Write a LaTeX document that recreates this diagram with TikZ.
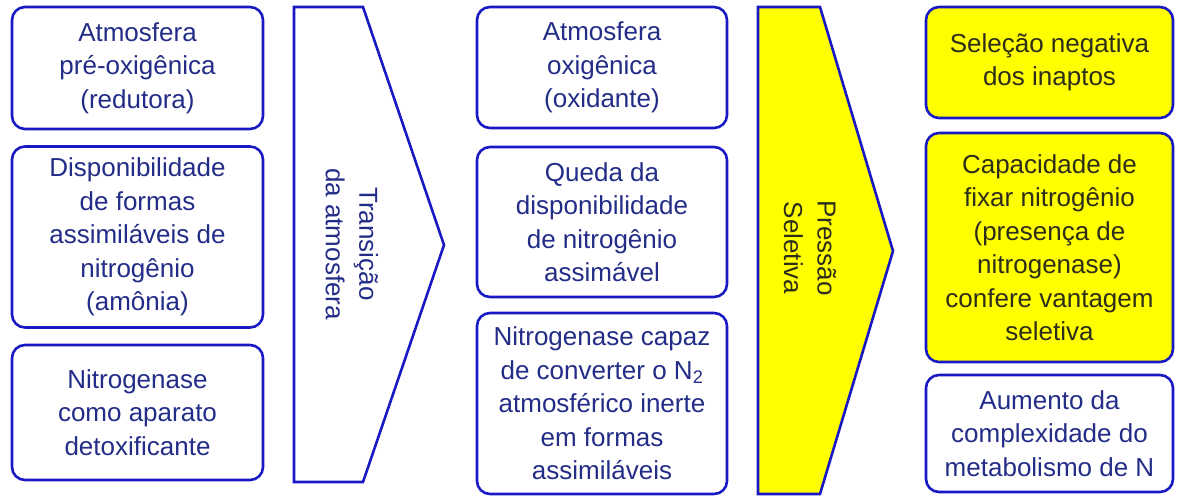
\documentclass[tikz,border=0pt]{standalone}
\usepackage{fontspec}
\setmainfont{Liberation Sans}
\definecolor{bordblue}{RGB}{25,25,195}
\definecolor{txtblue}{RGB}{35,45,135}
\definecolor{txtdark}{RGB}{45,45,25}
\definecolor{yel}{RGB}{255,255,0}
\tikzset{
  box/.style={draw=bordblue, line width=2.6pt, rounded corners=13pt, fill=white,
    align=center, text=txtblue, inner sep=0pt,
    font=\fontsize{26}{33.5}\selectfont},
  ybox/.style={box, fill=yel, text=txtdark},
  arrowshape/.style={draw=bordblue, line width=2.6pt, line join=miter},
  arrowtext/.style={align=center, rotate=-90, inner sep=0pt,
    font=\fontsize{26}{33.5}\selectfont}
}
\begin{document}
\begin{tikzpicture}[x=1pt,y=-1pt]
\useasboundingbox[fill=white] (0,0) rectangle (1177,497);
% column 1
\node[box, minimum width=251pt, minimum height=122pt] (a1) at (137.5,68) {Atmosfera\\pré-oxigênica\\(redutora)};
\node[box, minimum width=251pt, minimum height=181pt] (a2) at (137.5,237) {Disponibilidade\\de formas\\assimiláveis de\\nitrogênio\\(amônia)};
\node[box, minimum width=251pt, minimum height=135pt] (a3) at (137.5,412.5) {Nitrogenase\\como aparato\\detoxificante};
% arrow 1
\draw[arrowshape, fill=white] (294,7) -- (363,7) -- (444,245) -- (363,482) -- (294,482) -- cycle;
\node[arrowtext, text=txtblue] (t1) at (352,244) {Transição\\da atmosfera};
% column 3
\node[box, minimum width=250pt, minimum height=121pt] (b1) at (602,67.5) {Atmosfera\\oxigênica\\(oxidante)};
\node[box, minimum width=250pt, minimum height=150pt] (b2) at (602,222) {Queda da\\disponibilidade\\de nitrogênio\\assimável};
\node[box, minimum width=250pt, minimum height=181pt] (b3) at (602,403.5) {Nitrogenase capaz\\de converter o N\textsubscript{2}\\atmosférico inerte\\em formas\\assimiláveis};
% arrow 2
\draw[arrowshape, fill=yel] (758,7) -- (820,7) -- (893,251) -- (820,494) -- (758,494) -- cycle;
\node[arrowtext, text=txtdark] (t2) at (810,248) {Pressão\\Seletiva};
% column 5
\node[ybox, minimum width=247pt, minimum height=111pt] (c1) at (1049.5,62.5) {Seleção negativa\\dos inaptos};
\node[ybox, minimum width=247pt, minimum height=229pt] (c2) at (1049.5,247.5) {Capacidade de\\fixar nitrogênio\\(presença de\\nitrogenase)\\confere vantagem\\seletiva};
\node[box, minimum width=247pt, minimum height=117pt] (c3) at (1049.5,433.5) {Aumento da\\complexidade do\\metabolismo de N};
\end{tikzpicture}
\end{document}
